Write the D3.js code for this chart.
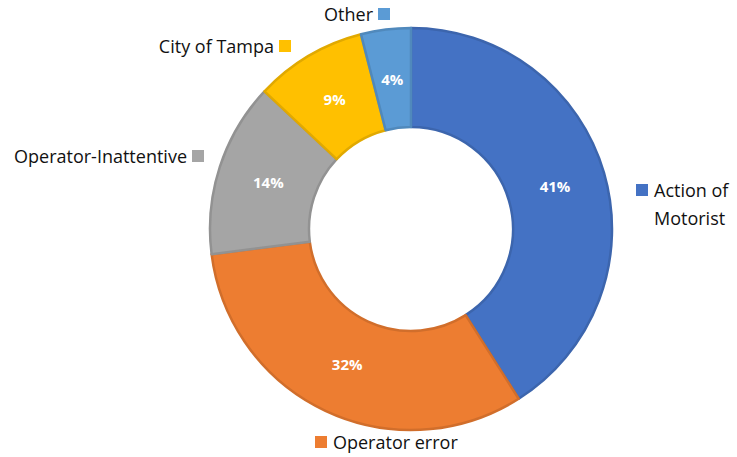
<!DOCTYPE html>
<html>
<head>
<meta charset="utf-8">
<script src="https://cdn.jsdelivr.net/npm/d3@7"></script>
<style>
  body { margin: 0; background: #fff; }
  text { font-family: "Open Sans", sans-serif; }
</style>
</head>
<body>
<div id="chart"></div>
<script>
/* DATA */
const categories = ["Action of Motorist", "Operator error", "Operator-Inattentive", "City of Tampa", "Other"];
const shares = [41, 32, 14, 9, 4];
const colors = ["#4472C4", "#ED7D31", "#A5A5A5", "#FFC000", "#5B9BD5"];

const width = 737, height = 457;
const cx = 411, cy = 229, outerR = 202, innerR = 101;

const svg = d3.select("#chart").append("svg")
  .attr("width", width)
  .attr("height", height);

const pie = d3.pie().sort(null).value(d => d.value);
const arc = d3.arc().innerRadius(innerR + 1).outerRadius(outerR - 1);
const labelArc = d3.arc().innerRadius(150).outerRadius(150);

const data = categories.map((c, i) => ({ name: c, value: shares[i], color: colors[i] }));

const g = svg.append("g").attr("transform", `translate(${cx},${cy})`);

g.selectAll("path")
  .data(pie(data))
  .join("path")
  .attr("d", arc)
  .attr("fill", d => d.data.color)
  .attr("stroke", d => d3.color(d.data.color).darker(0.35))
  .attr("stroke-width", 2.5)
  .attr("stroke-linejoin", "round");

g.selectAll("text.pct")
  .data(pie(data))
  .join("text")
  .attr("class", "pct")
  .attr("transform", d => `translate(${labelArc.centroid(d)})`)
  .attr("text-anchor", "middle")
  .attr("dy", "0.35em")
  .attr("fill", "#fff")
  .attr("font-weight", "bold")
  .attr("font-size", 15)
  .text(d => d.data.value + "%");

// legend entries placed around the ring like the original
const legend = [
  { i: 0, lines: ["Action of", "Motorist"], x: 654, y: 197, box: "left" },
  { i: 1, lines: ["Operator error"], x: 333, y: 449, box: "left" },
  { i: 2, lines: ["Operator-Inattentive"], x: 187, y: 163, box: "right" },
  { i: 3, lines: ["City of Tampa"], x: 274, y: 53, box: "right" },
  { i: 4, lines: ["Other"], x: 373, y: 21, box: "right" }
];

const lg = svg.append("g");
legend.forEach(l => {
  const t = lg.append("text")
    .attr("x", l.x)
    .attr("y", l.y)
    .attr("font-size", 18)
    .attr("fill", "#111")
    .attr("text-anchor", l.box === "right" ? "end" : "start");
  l.lines.forEach((s, k) => {
    t.append("tspan").attr("x", l.x).attr("dy", k === 0 ? 0 : 28).text(s);
  });
  const bx = l.box === "right" ? l.x + 5 : l.x - 18;
  lg.append("rect")
    .attr("x", bx)
    .attr("y", l.y - 13)
    .attr("width", 12)
    .attr("height", 12)
    .attr("fill", colors[l.i]);
});
</script>
</body>
</html>
